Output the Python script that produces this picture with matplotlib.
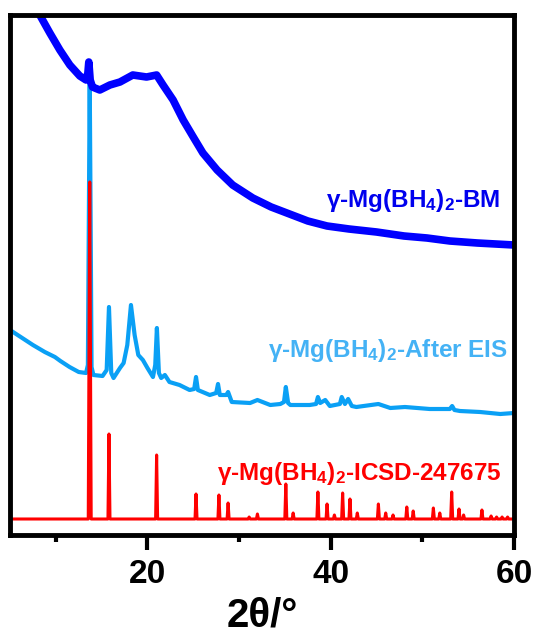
import matplotlib
matplotlib.use('Agg')
import matplotlib.pyplot as plt
import numpy as np

# gamma-Mg(BH4)2, ball milled (offset units)
bm_x = [5.0, 8.25, 9.35, 10.44, 11.53, 12.62, 13.3, 13.5, 13.6, 13.75, 14.0, 14.26,
        14.8, 15.9, 17.0, 18.4, 19.9, 21.0, 21.7, 22.8, 23.9, 25.0, 26.05, 27.6,
        29.3, 31.5, 33.5, 35.5, 37.5, 39.6, 42.0, 45.0, 48.0, 50.5, 53.0, 56.0, 60.0]
bm_y = [572, 520, 502, 485, 470, 459, 455, 462, 473, 455, 448, 447,
        445, 450, 453, 460, 458, 460, 450, 435, 415, 398, 382, 365,
        350, 337, 328, 321, 314, 309, 306, 303, 299, 297, 294, 292, 290]

# after EIS
eis_x = [5.0, 6.0, 7.5, 8.8, 9.9, 10.5, 11.5, 12.5, 13.3, 13.5, 13.7, 13.9, 14.1,
         15.1, 15.55, 15.8, 16.05, 16.3, 17.0, 17.4, 17.8, 18.2, 18.6, 19.0, 19.5,
         20.0, 20.6, 20.85, 21.03, 21.25, 21.5, 21.9, 22.4, 23.5, 24.6, 25.1, 25.3,
         25.5, 26.8, 27.5, 27.7, 27.9, 28.6, 28.8, 29.2, 31.2, 32.0, 33.4, 34.5,
         34.9, 35.1, 35.35, 35.6, 37.7, 38.4, 38.6, 38.85, 39.4, 39.9, 41.0, 41.2,
         41.55, 41.9, 42.3, 42.8, 45.2, 46.5, 48.1, 50.8, 53.0, 53.25, 53.5, 54.1,
         56.3, 58.5, 60.0]
eis_y = [205, 199, 190, 183, 178, 174, 168, 163, 162, 170, 455, 168, 160,
         159, 165, 228, 162, 157, 167, 172, 190, 230, 200, 180, 175,
         167, 158, 170, 207, 162, 157, 160, 153, 150, 145, 146, 158,
         145, 140, 142, 151, 140, 140, 143, 133, 132, 135, 130, 131,
         133, 148, 132, 130, 130, 131, 138, 132, 135, 129, 131, 138,
         131, 136, 129, 128, 131, 127, 128, 126, 126, 129, 125, 124,
         123, 121, 122]

# ICSD-247675 reference pattern: peak positions and peak tops
icsd_base = 16
icsd_pos = [13.7, 15.8, 21.0, 25.3, 27.8, 28.8, 31.1, 32.0, 35.1, 35.9, 38.6, 39.6,
            40.4, 41.3, 42.1, 42.9, 45.2, 46.0, 46.8, 48.3, 49.0, 51.2, 51.9, 53.2,
            54.0, 54.5, 56.5, 57.5, 58.1, 58.7, 59.3]
icsd_top = [353, 101, 80, 41, 40, 32, 18, 21, 51, 22, 43, 31,
            20, 42, 36, 22, 31, 22, 20, 28, 24, 27, 22, 43,
            26, 20, 25, 19, 18, 18, 18]

plt.rcParams['font.family'] = ['Liberation Sans', 'DejaVu Sans']
plt.rcParams['font.weight'] = 'bold'
plt.rcParams['mathtext.fontset'] = 'custom'
plt.rcParams['mathtext.rm'] = 'Liberation Sans:bold'
plt.rcParams['mathtext.it'] = 'Liberation Sans:bold'
plt.rcParams['mathtext.bf'] = 'Liberation Sans:bold'

fig = plt.figure(figsize=(5.34, 6.36), dpi=100)
ax = fig.add_axes([10 / 534, 101 / 636, 504 / 534, 520 / 636])

# build the stick pattern as a line with narrow spikes
rx = [5.0]
ry = [icsd_base]
for p, t in zip(icsd_pos, icsd_top):
    w = 0.16 if t > 200 else 0.11
    rx += [p - w, p, p + w]
    ry += [icsd_base, t, icsd_base]
rx.append(60.0)
ry.append(icsd_base)

ax.plot(eis_x, eis_y, color='#0aa0f5', lw=3.0, solid_joinstyle='round')
ax.plot(rx, ry, color='#ff0000', lw=2.2, solid_joinstyle='round')
ax.plot(bm_x, bm_y, color='#0000ff', lw=5.5, solid_joinstyle='round')

txt = dict(fontsize=17.5, fontweight='bold', ha='right', va='baseline')
ax.text(58.5, 328, r'γ-Mg(BH$_4$)$_2$-BM', color='#0000ee', **txt)
ax.text(59.35, 178, r'γ-Mg(BH$_4$)$_2$-After EIS', color='#44b2f5', **txt)
ax.text(58.7, 55, r'γ-Mg(BH$_4$)$_2$-ICSD-247675', color='#ff0000', **txt)

ax.set_xlim(5, 60)
ax.set_ylim(0, 520)
ax.set_xticks([20, 40, 60])
ax.set_xticks([10, 30, 50], minor=True)
ax.set_yticks([])
ax.tick_params(axis='x', which='major', direction='out', length=11, width=3,
               labelsize=24, pad=6)
ax.tick_params(axis='x', which='minor', direction='out', length=5, width=3)
for lab in ax.get_xticklabels():
    lab.set_fontweight('bold')
for s in ax.spines.values():
    s.set_linewidth(3.5)

ax.set_xlabel('2θ/°', fontsize=29, fontweight='bold', labelpad=5)

fig.savefig('out.png', dpi=100)
